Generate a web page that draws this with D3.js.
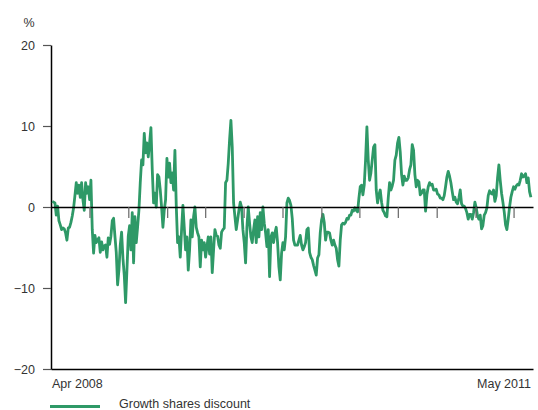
<!DOCTYPE html>
<html>
<head>
<meta charset="utf-8">
<script src="https://cdn.jsdelivr.net/npm/d3@7"></script>
<style>
  html, body { margin: 0; padding: 0; background: #fff; }
  svg { display: block; }
  text { font-family: "Liberation Sans", Arial, sans-serif; fill: #333; }
</style>
</head>
<body>
<svg id="chart" width="538" height="410"></svg>
<script>
// ---- data ----
const seriesName = "Growth shares discount";
const unitLabel = "%";
const yTicks = [-20, -10, 0, 10, 20];
const xStartLabel = "Apr 2008";
const xEndLabel = "May 2011";
const axisStart = "2008-04-01";
const axisEnd = "2011-05-17";
const firstDate = "2008-04-04";
const lastDate = "2011-05-12";
// observations, evenly spaced in time from firstDate to lastDate (per cent)
const values = [
  0.7, 0.6, 0.5, -1.0, 0.1, -1.7, -2.2, -2.8, -2.6, -2.7,
  -3.2, -4.1, -2.6, -2.5, -1.9, -1.1, -0.1, 1.4, 3.0, 1.7,
  2.7, 1.2, 3.0, 0.9, -0.4, 3.0, 1.7, 2.5, 0.9, 3.3,
  -2.8, -5.7, -3.5, -4.4, -4.1, -3.8, -5.6, -4.3, -5.3, -4.8,
  -4.7, -6.2, -3.8, -4.6, -3.6, -1.7, -1.4, -3.6, -5.6, -9.6,
  -7.8, -4.7, -3.1, -6.3, -8.4, -11.8, -7.8, -3.6, -2.3, -5.3,
  -0.7, -6.9, -1.2, -4.4, -2.5, -0.4, 3.0, 5.8, 5.2, 9.1,
  6.7, 7.9, 6.2, 7.9, 9.8, 4.6, 0.5, 1.7, 0.0, 4.0,
  3.7, 2.1, 0.0, -2.5, -0.4, 0.9, 6.0, 3.7, 5.4, 3.0,
  4.2, 2.1, 7.0, 0.2, -4.4, -3.7, -6.2, -2.8, 0.2, -2.5,
  -5.3, -3.7, -7.8, -5.3, -1.6, -3.7, -1.2, 0.0, -2.5, -3.2,
  -3.7, -7.4, -4.1, -5.3, -4.4, -6.2, -4.9, -3.7, -5.8, -3.7,
  -8.1, -5.3, -2.8, -3.5, -3.6, -4.7, -5.1, -3.1, -2.8, -2.6,
  3.0, 3.3, 5.4, 8.3, 10.7, 7.4, 0.5, -1.2, -2.8, -1.6,
  -0.4, 0.6, 0.0, -2.8, -4.4, -6.9, -2.5, 0.0, -2.0, -3.7,
  -4.4, -2.8, -1.6, -4.4, -1.2, -3.7, -0.7, -2.8, 0.0, -2.0,
  -3.2, -4.9, -2.8, -8.6, -3.7, -3.2, -4.4, -3.2, -2.5, -4.4,
  -7.4, -9.0, -5.7, -4.4, -5.3, -3.7, 0.5, 1.1, 0.8, 0.2,
  -1.4, -4.1, -4.7, -4.7, -4.7, -4.1, -3.5, -4.7, -5.3, -4.9,
  -4.4, -2.8, -2.6, -5.6, -6.2, -6.5, -7.2, -7.8, -8.4, -6.3,
  -5.9, -3.2, -1.6, -0.9, -1.9, -4.1, -3.1, -3.1, -3.2, -4.1,
  -4.7, -4.1, -4.7, -5.1, -6.5, -7.3, -4.1, -2.2, -2.0, -2.1,
  -1.9, -1.4, -1.5, -1.0, -1.0, -0.4, -0.5, -0.1, -0.4, -0.6,
  1.1, 2.5, 2.7, 1.5, 2.7, 5.8, 9.9, 5.8, 3.3, 4.2,
  5.8, 7.4, 7.7, 2.1, 0.5, 1.5, 2.1, 0.6, -0.4, -0.7,
  -1.1, -1.2, 1.1, 3.0, 2.1, 2.6, 3.3, 5.8, 6.4, 7.9,
  8.6, 6.8, 4.0, 2.7, 3.8, 3.3, 3.3, 3.6, 4.6, 5.2,
  7.7, 7.0, 4.0, 2.5, 3.3, 3.1, 1.5, 1.7, 2.1, 2.1,
  -0.5, 1.5, 2.5, 3.0, 2.7, 2.8, 2.1, 2.1, 2.2, 1.6,
  1.5, 1.1, 1.1, 0.9, 1.4, 2.5, 3.7, 4.4, 3.8, 3.0,
  1.9, 0.9, 1.2, 0.6, 0.4, 1.1, 2.1, 0.4, 0.1, 0.1,
  -0.2, -0.7, -1.5, -0.9, -0.9, -1.5, -0.7, 0.6, -0.1, -1.1,
  -1.5, -1.0, -2.7, -2.3, -1.0, -0.7, -0.1, 1.4, 2.0, 1.7,
  1.6, 2.1, 0.7, 1.4, 3.6, 5.2, 3.3, 1.7, 0.6, -0.6,
  -2.2, -2.8, -1.5, 0.0, 1.2, 1.9, 2.5, 2.2, 2.6, 2.8,
  2.7, 3.3, 4.1, 3.7, 3.8, 4.1, 3.0, 3.6, 1.9, 1.2
];

// ---- layout ----
const lineColor = "#2e9967";
const plot = { left: 51, right: 533, top: 45, bottom: 369 };

const parse = d3.utcParse("%Y-%m-%d");
const t0 = parse(firstDate), t1 = parse(lastDate);
const idxToTime = d3.scaleLinear().domain([0, values.length - 1]).range([+t0, +t1]);
const data = values.map((v, i) => ({ date: new Date(idxToTime(i)), value: v }));

const x = d3.scaleUtc().domain([parse(axisStart), parse(axisEnd)]).range([plot.left, plot.right]);
const y = d3.scaleLinear().domain([-20, 20]).range([plot.bottom, plot.top]);

const svg = d3.select("#chart");

// y axis
const yAxis = svg.append("g")
  .attr("transform", `translate(${plot.left},0)`)
  .call(d3.axisLeft(y).tickValues(yTicks).tickSize(8).tickSizeOuter(0).tickPadding(8).tickFormat(d3.format("d")));
yAxis.select(".domain").attr("stroke", "#000").attr("stroke-width", 1.5);
yAxis.selectAll(".tick line").attr("stroke", "#555").attr("stroke-width", 1.2);
yAxis.selectAll(".tick text").attr("font-size", 12.5).attr("fill", "#333")
  .style("font-family", '"Liberation Sans", Arial, sans-serif');

// bottom axis line
const xBottom = svg.append("g")
  .attr("transform", `translate(0,${y(-20)})`)
  .call(d3.axisBottom(x).tickValues([]).tickSizeOuter(0));
xBottom.select(".domain").attr("stroke", "#000").attr("stroke-width", 1.5);

// x labels at the ends
svg.append("text").attr("x", x(parse(axisStart)) + 1).attr("y", 388)
  .attr("font-size", 12.5).attr("text-anchor", "start").text(xStartLabel);
svg.append("text").attr("x", x(parse(axisEnd)) - 2).attr("y", 388)
  .attr("font-size", 12.5).attr("text-anchor", "end").text(xEndLabel);

// unit label
svg.append("text").attr("x", 29).attr("y", 26.5)
  .attr("font-size", 12.5).attr("text-anchor", "middle").text(unitLabel);

// series line
svg.append("path")
  .datum(data)
  .attr("fill", "none")
  .attr("stroke", lineColor)
  .attr("stroke-width", 2.8)
  .attr("stroke-linejoin", "round")
  .attr("d", d3.line().x(d => x(d.date)).y(d => y(d.value)));

// zero line with quarterly ticks
const quarterTicks = d3.utcMonth.every(3).range(parse(axisStart), parse(axisEnd)).filter(d => +d > +parse(axisStart));
const zeroAxis = svg.append("g")
  .attr("transform", `translate(0,${y(0)})`)
  .call(d3.axisBottom(x).tickValues(quarterTicks).tickSize(11).tickSizeOuter(0).tickFormat(""));
zeroAxis.select(".domain").attr("stroke", "#000").attr("stroke-width", 1.4);
zeroAxis.selectAll(".tick line").attr("stroke", "#666").attr("stroke-width", 1.2);

// legend
svg.append("line").attr("x1", 50).attr("x2", 100).attr("y1", 406.5).attr("y2", 406.5)
  .attr("stroke", lineColor).attr("stroke-width", 3.2);
svg.append("text").attr("x", 119).attr("y", 408).attr("font-size", 12.5).text(seriesName);
</script>
</body>
</html>
